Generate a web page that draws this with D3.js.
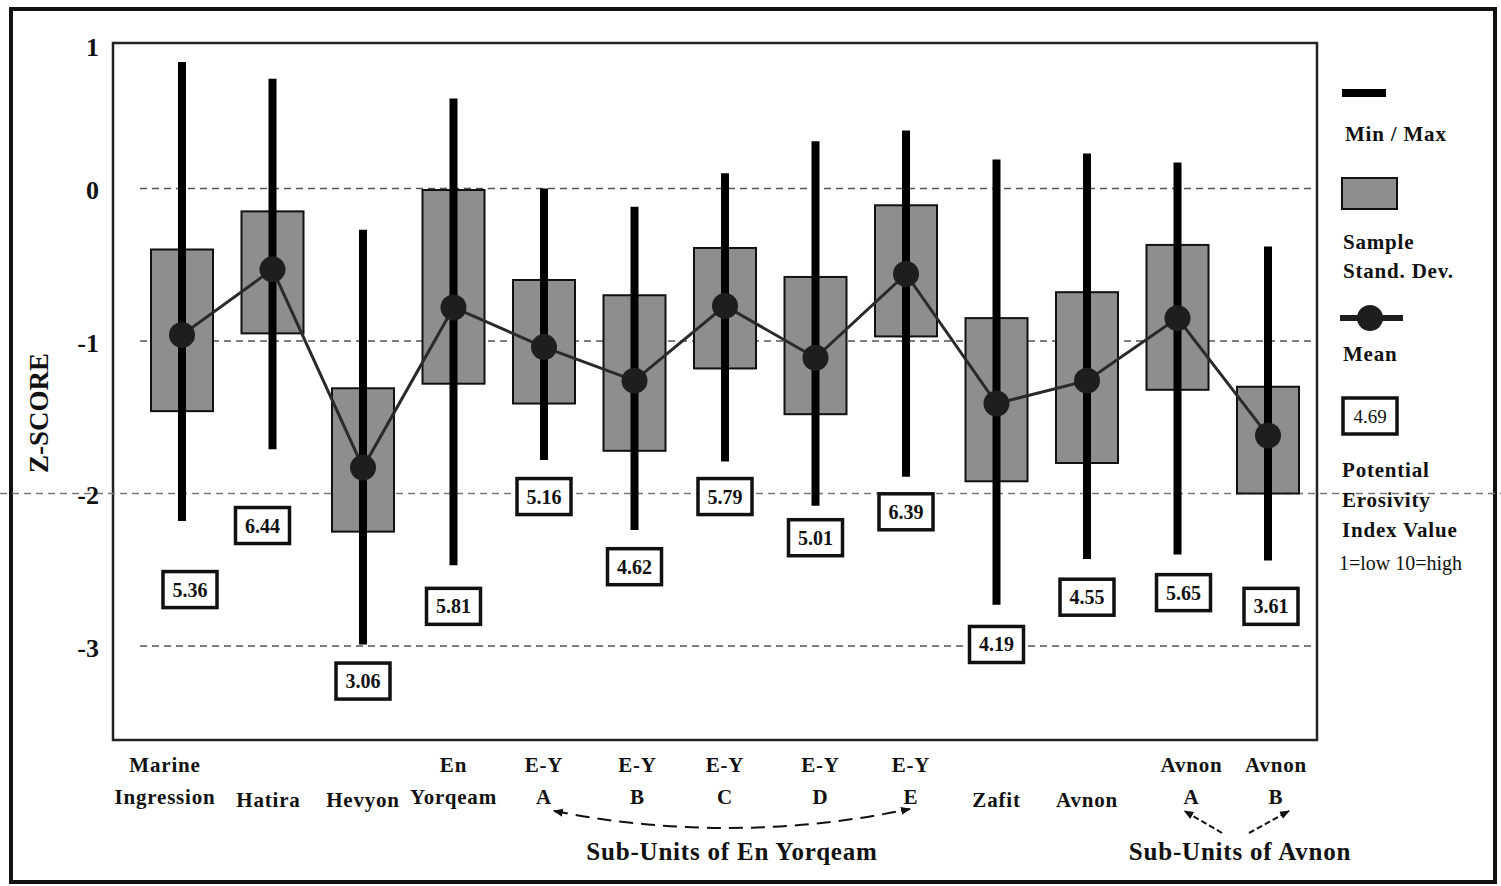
<!DOCTYPE html>
<html>
<head>
<meta charset="utf-8">
<script src="https://cdn.jsdelivr.net/npm/d3@7/dist/d3.min.js"></script>
<style>
  body { margin: 0; background: #fff; }
  text { font-family: "Liberation Serif", "Times New Roman", serif; font-weight: bold; fill: #111; }
</style>
</head>
<body>
<div class="chart"></div>
<script>
const width = 1501,
    height = 886;

// data (z-scores)
const categories = ["Marine Ingression", "Hatira", "Hevyon", "En Yorqeam", "E-Y A", "E-Y B", "E-Y C",
    "E-Y D", "E-Y E", "Zafit", "Avnon", "Avnon A", "Avnon B"];
const labelTop = ["Marine", "", "", "En", "E-Y", "E-Y", "E-Y", "E-Y", "E-Y", "", "", "Avnon", "Avnon"];
const labelBottom = ["Ingression", "Hatira", "Hevyon", "Yorqeam", "A", "B", "C", "D", "E", "Zafit", "Avnon", "A", "B"];
const zMax = [0.83, 0.72, -0.27, 0.59, 0.00, -0.12, 0.10, 0.31, 0.38, 0.19, 0.23, 0.17, -0.38];
const zMin = [-2.18, -1.71, -2.99, -2.47, -1.78, -2.24, -1.79, -2.08, -1.89, -2.73, -2.43, -2.40, -2.44];
const sdTop = [-0.40, -0.15, -1.31, -0.01, -0.60, -0.70, -0.39, -0.58, -0.11, -0.85, -0.68, -0.37, -1.30];
const sdBottom = [-1.46, -0.95, -2.25, -1.28, -1.41, -1.72, -1.18, -1.48, -0.97, -1.92, -1.80, -1.32, -2.00];
const zMean = [-0.96, -0.53, -1.83, -0.78, -1.04, -1.26, -0.77, -1.11, -0.56, -1.41, -1.26, -0.85, -1.62];
const pei = ["5.36", "6.44", "3.06", "5.81", "5.16", "4.62", "5.79", "5.01", "6.39", "4.19", "4.55", "5.65", "3.61"];
// z level where each erosivity box sits
const peiAt = [-2.63, -2.21, -3.23, -2.74, -2.02, -2.48, -2.02, -2.29, -2.12, -2.99, -2.68, -2.65, -2.74];
const yTicks = [1, 0, -1, -2, -3];

const data = categories.map((c, i) => ({
    cat: c, top: labelTop[i], bottom: labelBottom[i],
    max: zMax[i], min: zMin[i], sdTop: sdTop[i], sdBottom: sdBottom[i],
    mean: zMean[i], pei: pei[i], peiAt: peiAt[i]
}));

const plot = {left: 113, top: 43, right: 1317, bottom: 740};

const svg = d3.select(".chart").append("svg")
    .attr("width", width)
    .attr("height", height);

const x = d3.scalePoint()
    .domain(categories)
    .range([182, 1268]);
const y = d3.scaleLinear()
    .domain([1, -3])
    .range([36, 646]);

// frames
svg.append("rect")
    .attr("x", 11).attr("y", 9)
    .attr("width", 1484).attr("height", 873)
    .attr("fill", "none").attr("stroke", "#111").attr("stroke-width", 4);
svg.append("rect")
    .attr("x", plot.left).attr("y", plot.top)
    .attr("width", plot.right - plot.left).attr("height", plot.bottom - plot.top)
    .attr("fill", "none").attr("stroke", "#222").attr("stroke-width", 2.5);

// dashed reference lines
svg.append("g").selectAll("line")
    .data([0, -1, -3])
    .enter().append("line")
    .attr("x1", 140).attr("x2", 1314)
    .attr("y1", d => y(d)).attr("y2", d => y(d))
    .attr("stroke", "#555").attr("stroke-width", 1.5)
    .attr("stroke-dasharray", "7,5");
svg.append("line")
    .attr("x1", 0).attr("x2", width)
    .attr("y1", y(-2)).attr("y2", y(-2))
    .attr("stroke", "#777").attr("stroke-width", 1.3)
    .attr("stroke-dasharray", "7,5");

// y axis
const yAxis = svg.append("g")
    .attr("transform", `translate(102,0)`)
    .call(d3.axisLeft(y).tickValues(yTicks).tickSize(0).tickFormat(d => String(d)));
yAxis.select(".domain").remove();
yAxis.selectAll("text")
    .attr("dy", d => d === 1 ? "0.75em" : "0.4em")
    .style("font-family", "'Liberation Serif', serif")
    .style("font-weight", "bold")
    .style("font-size", "26px")
    .attr("fill", "#111");

svg.append("text")
    .attr("transform", "translate(48,413) rotate(-90)")
    .attr("text-anchor", "middle")
    .style("font-size", "27px")
    .text("Z-SCORE");

// standard deviation boxes
const boxW = 62;
svg.append("g").selectAll("rect")
    .data(data)
    .enter().append("rect")
    .attr("x", d => x(d.cat) - boxW / 2)
    .attr("y", d => y(d.sdTop))
    .attr("width", boxW)
    .attr("height", d => y(d.sdBottom) - y(d.sdTop))
    .attr("fill", "#8e8e8e")
    .attr("stroke", "#111")
    .attr("stroke-width", 2);

// min / max bars
svg.append("g").selectAll("line")
    .data(data)
    .enter().append("line")
    .attr("x1", d => x(d.cat)).attr("x2", d => x(d.cat))
    .attr("y1", d => y(d.max)).attr("y2", d => y(d.min))
    .attr("stroke", "#000").attr("stroke-width", 8);

// mean line + dots
const meanLine = d3.line()
    .x(d => x(d.cat))
    .y(d => y(d.mean));
svg.append("path")
    .datum(data)
    .attr("d", meanLine)
    .attr("fill", "none")
    .attr("stroke", "#2a2a2a")
    .attr("stroke-width", 3);
svg.append("g").selectAll("circle")
    .data(data)
    .enter().append("circle")
    .attr("cx", d => x(d.cat))
    .attr("cy", d => y(d.mean))
    .attr("r", 13)
    .attr("fill", "#1e1e1e");

// erosivity index boxes
const peiDx = {"Marine Ingression": 8, "Hatira": -10, "Avnon A": 6, "Avnon B": 3};
const peiG = svg.append("g").selectAll("g")
    .data(data)
    .enter().append("g")
    .attr("transform", d => `translate(${x(d.cat) + (peiDx[d.cat] || 0)},${y(d.peiAt)})`);
peiG.append("rect")
    .attr("x", -27).attr("y", -18)
    .attr("width", 54).attr("height", 36)
    .attr("fill", "#fff")
    .attr("stroke", "#111")
    .attr("stroke-width", 3.5);
peiG.append("text")
    .attr("text-anchor", "middle")
    .attr("dy", "0.35em")
    .style("font-size", "20px")
    .text(d => d.pei);

// category labels
const labelDx = {"Marine Ingression": -17, "Hatira": -4, "E-Y B": 3, "E-Y D": 5, "E-Y E": 5, "Avnon A": 14, "Avnon B": 8};
const catG = svg.append("g").selectAll("g")
    .data(data)
    .enter().append("g")
    .attr("transform", d => `translate(${x(d.cat) + (labelDx[d.cat] || 0)},0)`);
catG.append("text")
    .attr("y", 772)
    .attr("text-anchor", "middle")
    .style("font-size", "21px")
    .style("letter-spacing", "0.8px")
    .text(d => d.top);
catG.append("text")
    .attr("y", d => d.top ? 804 : 807)
    .attr("text-anchor", "middle")
    .style("font-size", "21px")
    .style("letter-spacing", "0.8px")
    .text(d => d.bottom);

// arrow markers
const defs = svg.append("defs");
defs.append("marker")
    .attr("id", "arrow")
    .attr("viewBox", "0 0 10 10")
    .attr("refX", 9).attr("refY", 5)
    .attr("markerWidth", 5).attr("markerHeight", 5)
    .attr("markerUnits", "strokeWidth")
    .attr("orient", "auto-start-reverse")
    .append("path")
    .attr("d", "M0,1 L10,5 L0,9 z")
    .attr("fill", "#111");

// sub-units of En Yorqeam
const xa = x("E-Y A") + 10, xe = x("E-Y E") + 4;
svg.append("path")
    .attr("d", `M${xa},811 Q${(xa + xe) / 2},846 ${xe},809`)
    .attr("fill", "none")
    .attr("stroke", "#111").attr("stroke-width", 2)
    .attr("stroke-dasharray", "14,8")
    .attr("marker-start", "url(#arrow)")
    .attr("marker-end", "url(#arrow)");
svg.append("text")
    .attr("x", (xa + xe) / 2).attr("y", 860)
    .attr("text-anchor", "middle")
    .style("font-size", "25px")
    .style("letter-spacing", "0.8px")
    .text("Sub-Units of En Yorqeam");

// sub-units of Avnon
const xA = x("Avnon A"), xB = x("Avnon B");
svg.append("line")
    .attr("x1", 1222).attr("y1", 833)
    .attr("x2", xA + 7).attr("y2", 811)
    .attr("stroke", "#111").attr("stroke-width", 2)
    .attr("stroke-dasharray", "6,3")
    .attr("marker-end", "url(#arrow)");
svg.append("line")
    .attr("x1", 1249).attr("y1", 833)
    .attr("x2", xB + 21).attr("y2", 811)
    .attr("stroke", "#111").attr("stroke-width", 2)
    .attr("stroke-dasharray", "6,3")
    .attr("marker-end", "url(#arrow)");
svg.append("text")
    .attr("x", 1240).attr("y", 860)
    .attr("text-anchor", "middle")
    .style("font-size", "25px")
    .style("letter-spacing", "0.8px")
    .text("Sub-Units of Avnon");

// legend
const lg = svg.append("g");
lg.append("line")
    .attr("x1", 1342).attr("x2", 1386)
    .attr("y1", 93).attr("y2", 93)
    .attr("stroke", "#000").attr("stroke-width", 8);
lg.append("text").attr("x", 1345).attr("y", 141)
    .style("font-size", "21px").style("letter-spacing", "0.8px").text("Min / Max");
lg.append("rect")
    .attr("x", 1342).attr("y", 178)
    .attr("width", 55).attr("height", 31)
    .attr("fill", "#8e8e8e").attr("stroke", "#111").attr("stroke-width", 2);
lg.append("text").attr("x", 1343).attr("y", 249)
    .style("font-size", "21px").style("letter-spacing", "0.8px").text("Sample");
lg.append("text").attr("x", 1343).attr("y", 278)
    .style("font-size", "21px").style("letter-spacing", "0.8px").text("Stand. Dev.");
lg.append("line")
    .attr("x1", 1340).attr("x2", 1403)
    .attr("y1", 318).attr("y2", 318)
    .attr("stroke", "#1e1e1e").attr("stroke-width", 6);
lg.append("circle")
    .attr("cx", 1370).attr("cy", 318).attr("r", 13)
    .attr("fill", "#1e1e1e");
lg.append("text").attr("x", 1343).attr("y", 361)
    .style("font-size", "21px").style("letter-spacing", "0.8px").text("Mean");
lg.append("rect")
    .attr("x", 1343).attr("y", 398)
    .attr("width", 54).attr("height", 36)
    .attr("fill", "#fff").attr("stroke", "#111").attr("stroke-width", 3.5);
lg.append("text").attr("x", 1370).attr("y", 423)
    .attr("text-anchor", "middle")
    .style("font-size", "19px").style("font-weight", "normal")
    .attr("fill", "#333").text("4.69");
["Potential", "Erosivity", "Index Value"].forEach((t, i) => {
    lg.append("text").attr("x", 1342).attr("y", 477 + i * 30)
        .style("font-size", "21px").style("letter-spacing", "0.8px").text(t);
});
lg.append("text").attr("x", 1339).attr("y", 570)
    .style("font-size", "20px").style("font-weight", "normal")
    .text("1=low 10=high");
</script>
</body>
</html>
